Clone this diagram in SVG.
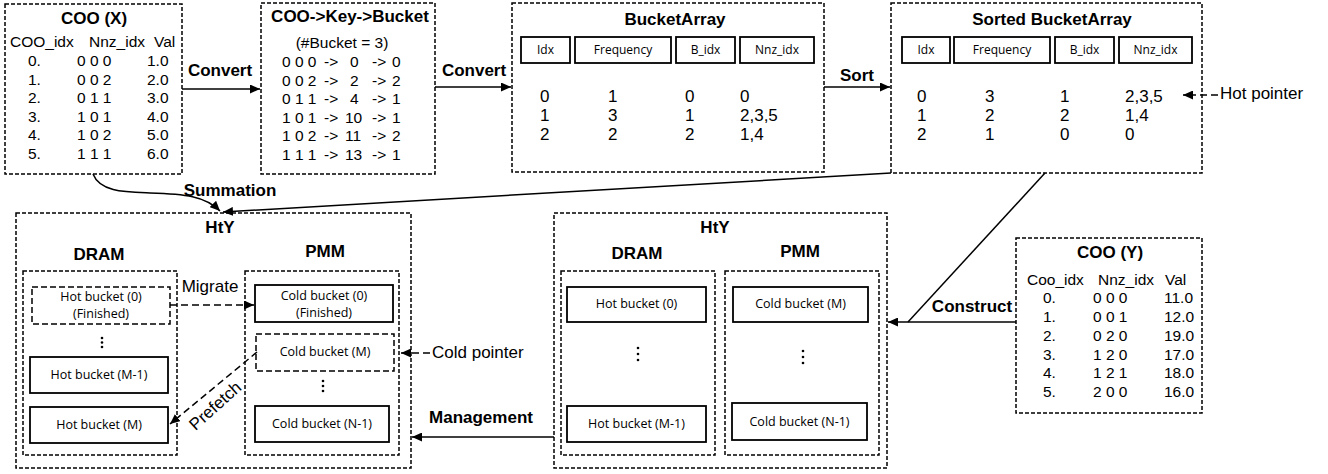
<svg xmlns="http://www.w3.org/2000/svg" width="1328" height="474" viewBox="0 0 1328 474">
<style>
text{font-family:"Liberation Sans",Arial,sans-serif;fill:#000}
.dbox{fill:none;stroke:#000;stroke-width:1.5;stroke-dasharray:4 2}
.dbox2{fill:none;stroke:#000;stroke-width:1.5;stroke-dasharray:6 3}
.sbox{fill:#fff;stroke:#000;stroke-width:1.8}
.title{font-size:17px;font-weight:bold;text-anchor:middle}
.lbl{font-size:17px;font-weight:bold;text-anchor:middle}
.reg{font-size:17px}
.tab{font-size:15.5px}
.dat{font-size:17px}
.mid{text-anchor:middle}
.hdr{font-family:"Open Sans",sans-serif;font-size:12px;text-anchor:middle}
.bk{font-family:"Open Sans",sans-serif;font-size:12.5px;text-anchor:middle}
.line{fill:none;stroke:#000;stroke-width:1.5}
.dline{fill:none;stroke:#000;stroke-width:1.5;stroke-dasharray:7 4}
</style>
<defs>
<marker id="ah" markerUnits="userSpaceOnUse" markerWidth="11" markerHeight="9" refX="10" refY="4.5" orient="auto">
<path d="M0,0 L10,4.5 L0,9 z" fill="#000"/>
</marker>
</defs>

<g id="coo-x">
<rect class="dbox" x="5" y="4" width="177" height="170"/>
<text class="title" x="94" y="24">COO (X)</text>
<text class="tab" y="47"><tspan x="10">COO_idx</tspan><tspan x="89">Nnz_idx</tspan><tspan x="154">Val</tspan></text>
<text class="tab" y="66"><tspan x="28">0.</tspan><tspan x="77">0 0 0</tspan><tspan x="147">1.0</tspan></text>
<text class="tab" y="84.5"><tspan x="28">1.</tspan><tspan x="77">0 0 2</tspan><tspan x="147">2.0</tspan></text>
<text class="tab" y="103"><tspan x="28">2.</tspan><tspan x="77">0 1 1</tspan><tspan x="147">3.0</tspan></text>
<text class="tab" y="121.5"><tspan x="28">3.</tspan><tspan x="77">1 0 1</tspan><tspan x="147">4.0</tspan></text>
<text class="tab" y="140"><tspan x="28">4.</tspan><tspan x="77">1 0 2</tspan><tspan x="147">5.0</tspan></text>
<text class="tab" y="158.5"><tspan x="28">5.</tspan><tspan x="77">1 1 1</tspan><tspan x="147">6.0</tspan></text>
</g>

<g id="coo-key-bucket">
<rect class="dbox" x="261" y="3" width="174" height="171"/>
<text class="title" x="350" y="22">COO-&gt;Key-&gt;Bucket</text>
<text class="tab mid" x="342" y="48">(#Bucket = 3)</text>
<text class="tab" y="67"><tspan x="282">0 0 0</tspan><tspan x="324">-&gt;</tspan><tspan x="350">0</tspan><tspan x="372">-&gt;</tspan><tspan x="392">0</tspan></text>
<text class="tab" y="85.5"><tspan x="282">0 0 2</tspan><tspan x="324">-&gt;</tspan><tspan x="350">2</tspan><tspan x="372">-&gt;</tspan><tspan x="392">2</tspan></text>
<text class="tab" y="104"><tspan x="282">0 1 1</tspan><tspan x="324">-&gt;</tspan><tspan x="350">4</tspan><tspan x="372">-&gt;</tspan><tspan x="392">1</tspan></text>
<text class="tab" y="122.5"><tspan x="282">1 0 1</tspan><tspan x="324">-&gt;</tspan><tspan x="345">10</tspan><tspan x="372">-&gt;</tspan><tspan x="392">1</tspan></text>
<text class="tab" y="141"><tspan x="282">1 0 2</tspan><tspan x="324">-&gt;</tspan><tspan x="345">11</tspan><tspan x="372">-&gt;</tspan><tspan x="392">2</tspan></text>
<text class="tab" y="159.5"><tspan x="282">1 1 1</tspan><tspan x="324">-&gt;</tspan><tspan x="345">13</tspan><tspan x="372">-&gt;</tspan><tspan x="392">1</tspan></text>
</g>

<g id="bucket-array">
<rect class="dbox" x="512" y="3" width="312" height="169"/>
<text class="title" x="675" y="25">BucketArray</text>
<rect class="sbox" x="521" y="37" width="49" height="26"/>
<rect class="sbox" x="575" y="37" width="96" height="26"/>
<rect class="sbox" x="676" y="37" width="59" height="26"/>
<rect class="sbox" x="740" y="37" width="74" height="26"/>
<text class="hdr" x="545.5" y="54">Idx</text>
<text class="hdr" x="623" y="54">Frequency</text>
<text class="hdr" x="705.5" y="54">B_idx</text>
<text class="hdr" x="777" y="54">Nnz_idx</text>
<text class="dat" y="102"><tspan x="540">0</tspan><tspan x="608">1</tspan><tspan x="685">0</tspan><tspan x="740">0</tspan></text>
<text class="dat" y="121"><tspan x="540">1</tspan><tspan x="608">3</tspan><tspan x="685">1</tspan><tspan x="740">2,3,5</tspan></text>
<text class="dat" y="140"><tspan x="540">2</tspan><tspan x="608">2</tspan><tspan x="685">2</tspan><tspan x="740">1,4</tspan></text>
</g>

<g id="sorted-bucket-array">
<rect class="dbox" x="891" y="3" width="311" height="170"/>
<text class="title" x="1052" y="25">Sorted BucketArray</text>
<rect class="sbox" x="902" y="37" width="48" height="26"/>
<rect class="sbox" x="954" y="37" width="96" height="26"/>
<rect class="sbox" x="1055" y="37" width="59" height="26"/>
<rect class="sbox" x="1119" y="37" width="73" height="26"/>
<text class="hdr" x="926" y="54">Idx</text>
<text class="hdr" x="1002" y="54">Frequency</text>
<text class="hdr" x="1084.5" y="54">B_idx</text>
<text class="hdr" x="1155.5" y="54">Nnz_idx</text>
<text class="dat" y="102"><tspan x="917">0</tspan><tspan x="985">3</tspan><tspan x="1060">1</tspan><tspan x="1125">2,3,5</tspan></text>
<text class="dat" y="121"><tspan x="917">1</tspan><tspan x="985">2</tspan><tspan x="1060">2</tspan><tspan x="1125">1,4</tspan></text>
<text class="dat" y="140"><tspan x="917">2</tspan><tspan x="985">1</tspan><tspan x="1060">0</tspan><tspan x="1125">0</tspan></text>
</g>

<g id="hot-pointer">
<line class="dline" x1="1218" y1="95" x2="1183" y2="95" stroke-dasharray="6 4" marker-end="url(#ah)"/>
<text class="reg" x="1220" y="99">Hot pointer</text>
</g>

<g id="hty-1">
<rect class="dbox" x="16" y="213" width="395" height="255"/>
<text class="title" x="220" y="233">HtY</text>
<text class="title" x="99" y="260">DRAM</text>
<text class="title" x="325" y="257">PMM</text>
<rect class="dbox" x="23" y="271" width="154" height="184"/>
<rect class="dbox" x="245" y="271" width="154" height="184"/>
<rect class="dbox2" x="32" y="287" width="138" height="37"/>
<text class="bk" x="101" y="301">Hot bucket (0)</text>
<text class="bk" x="101" y="318">(Finished)</text>
<circle cx="102" cy="338" r="1.3"/><circle cx="102" cy="342.5" r="1.3"/><circle cx="102" cy="347" r="1.3"/>
<rect class="sbox" x="30" y="357" width="138" height="36"/>
<text class="bk" x="99" y="379">Hot bucket (M-1)</text>
<rect class="sbox" x="30" y="407" width="138" height="36"/>
<text class="bk" x="99" y="429">Hot bucket (M)</text>
<rect class="sbox" x="255" y="285" width="138" height="37"/>
<text class="bk" x="324" y="300">Cold bucket (0)</text>
<text class="bk" x="324" y="317">(Finished)</text>
<rect class="dbox2" x="256" y="334" width="138" height="37"/>
<text class="bk" x="325" y="356">Cold bucket (M)</text>
<circle cx="323" cy="381" r="1.3"/><circle cx="323" cy="386" r="1.3"/><circle cx="323" cy="391" r="1.3"/>
<rect class="sbox" x="255" y="406" width="134" height="36"/>
<text class="bk" x="322" y="428">Cold bucket (N-1)</text>
</g>

<g id="hty-2">
<rect class="dbox" x="554" y="213" width="333" height="255"/>
<text class="title" x="715" y="233">HtY</text>
<text class="title" x="637" y="259">DRAM</text>
<text class="title" x="800" y="257">PMM</text>
<rect class="dbox" x="561" y="271" width="154" height="184"/>
<rect class="dbox" x="725" y="271" width="154" height="184"/>
<rect class="sbox" x="567" y="287" width="139" height="35"/>
<text class="bk" x="636.5" y="308">Hot bucket (0)</text>
<circle cx="638" cy="348" r="1.3"/><circle cx="638" cy="354" r="1.3"/><circle cx="638" cy="360" r="1.3"/>
<rect class="sbox" x="567" y="406" width="139" height="36"/>
<text class="bk" x="636.5" y="428">Hot bucket (M-1)</text>
<rect class="sbox" x="733" y="287" width="135" height="35"/>
<text class="bk" x="800.5" y="308">Cold bucket (M)</text>
<circle cx="803" cy="351" r="1.3"/><circle cx="803" cy="357" r="1.3"/><circle cx="803" cy="363" r="1.3"/>
<rect class="sbox" x="732" y="403" width="135" height="37"/>
<text class="bk" x="799.5" y="426">Cold bucket (N-1)</text>
</g>

<g id="coo-y">
<rect class="dbox" x="1016" y="238" width="186" height="175"/>
<text class="title" x="1110" y="258">COO (Y)</text>
<text class="tab" y="285"><tspan x="1027">Coo_idx</tspan><tspan x="1098">Nnz_idx</tspan><tspan x="1165">Val</tspan></text>
<text class="tab" y="303"><tspan x="1043">0.</tspan><tspan x="1093">0 0 0</tspan><tspan x="1164">11.0</tspan></text>
<text class="tab" y="321.5"><tspan x="1043">1.</tspan><tspan x="1093">0 0 1</tspan><tspan x="1164">12.0</tspan></text>
<text class="tab" y="340.5"><tspan x="1043">2.</tspan><tspan x="1093">0 2 0</tspan><tspan x="1164">19.0</tspan></text>
<text class="tab" y="359.5"><tspan x="1043">3.</tspan><tspan x="1093">1 2 0</tspan><tspan x="1164">17.0</tspan></text>
<text class="tab" y="378"><tspan x="1043">4.</tspan><tspan x="1093">1 2 1</tspan><tspan x="1164">18.0</tspan></text>
<text class="tab" y="397"><tspan x="1043">5.</tspan><tspan x="1093">2 0 0</tspan><tspan x="1164">16.0</tspan></text>
</g>

<g id="connectors">
<line class="line" x1="182" y1="89" x2="260" y2="89" marker-end="url(#ah)"/>
<text class="lbl" x="220" y="76">Convert</text>
<line class="line" x1="435" y1="87" x2="511" y2="87" marker-end="url(#ah)"/>
<text class="lbl" x="474" y="76">Convert</text>
<line class="line" x1="824" y1="87" x2="890" y2="87" marker-end="url(#ah)"/>
<text class="lbl" x="857" y="81">Sort</text>
<path class="line" d="M93,174 C100,192 125,192 150,193 C185,194 205,196 220,211" marker-end="url(#ah)"/>
<text class="lbl" x="230" y="196">Summation</text>
<line class="line" x1="891" y1="173" x2="223" y2="212" marker-end="url(#ah)"/>
<line class="line" x1="1045" y1="173" x2="908" y2="322"/>
<line class="line" x1="1016" y1="322" x2="888" y2="322" marker-end="url(#ah)"/>
<text class="lbl" x="972" y="312">Construct</text>
<line class="line" x1="554" y1="437" x2="412" y2="437" marker-end="url(#ah)"/>
<text class="lbl" x="481" y="423">Management</text>
<line class="dline" x1="170" y1="305" x2="254" y2="305" marker-end="url(#ah)"/>
<text class="reg mid" x="210" y="292">Migrate</text>
<path class="dline" d="M257,352 L245,362 L170,424" marker-end="url(#ah)"/>
<text class="reg mid" transform="translate(219,410) rotate(-42)">Prefetch</text>
<line class="dline" x1="430" y1="353" x2="401" y2="353" stroke-dasharray="6 4" marker-end="url(#ah)"/>
<text class="reg" x="432" y="358">Cold pointer</text>
</g>
</svg>
